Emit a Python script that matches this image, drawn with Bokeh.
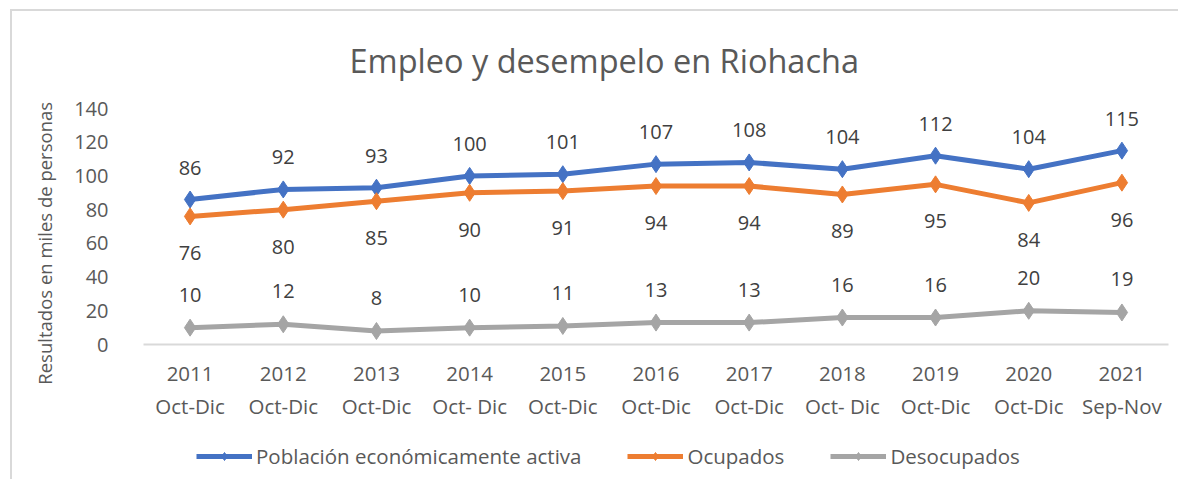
from bokeh.plotting import figure
from bokeh.layouts import column
from bokeh.models import FixedTicker, Legend, LegendItem, LabelSet, ColumnDataSource, InlineStyleSheet
from bokeh.core.properties import value
from bokeh.embed import file_html
from bokeh.resources import INLINE

categories = ["2011\nOct-Dic", "2012\nOct-Dic", "2013\nOct-Dic", "2014\nOct- Dic", "2015\nOct-Dic",
              "2016\nOct-Dic", "2017\nOct-Dic", "2018\nOct- Dic", "2019\nOct-Dic", "2020\nOct-Dic",
              "2021\nSep-Nov"]
pea = [86, 92, 93, 100, 101, 107, 108, 104, 112, 104, 115]
ocupados = [76, 80, 85, 90, 91, 94, 94, 89, 95, 84, 96]
desocupados = [10, 12, 8, 10, 11, 13, 13, 16, 16, 20, 19]
y_ticks = [0, 20, 40, 60, 80, 100, 120, 140]

FONT = "Open Sans"
TXT = "#595959"

x = list(range(len(categories)))

p = figure(width=1178, height=423, output_backend="svg", toolbar_location=None,
           x_range=(-0.5, len(categories) - 0.5), y_range=(0, 140),
           min_border_left=143, min_border_right=10, min_border_top=108, min_border_bottom=0,
           title="Empleo y desempelo en Riohacha")
p.outline_line_color = None
p.title.text_font = FONT
p.title.text_font_size = "32.5px"
p.title.text_font_style = "normal"
p.title.text_color = TXT
p.title.align = "left"
p.title.offset = 206
p.title.standoff = 51

p.xgrid.visible = False
p.ygrid.visible = False

p.yaxis.ticker = FixedTicker(ticks=y_ticks)
p.yaxis.axis_line_color = None
p.yaxis.major_tick_line_color = None
p.yaxis.minor_tick_line_color = None
p.yaxis.major_label_text_font = FONT
p.yaxis.major_label_text_font_size = "20px"
p.yaxis.major_label_text_color = TXT
p.yaxis.major_label_standoff = 29
p.yaxis.axis_label = "Resultados en miles de personas" + "\u00a0" * 7
p.yaxis.axis_label_text_font = FONT
p.yaxis.axis_label_text_font_size = "18.5px"
p.yaxis.axis_label_text_font_style = "normal"
p.yaxis.axis_label_text_color = TXT
p.yaxis.axis_label_standoff = 14

p.xaxis.ticker = FixedTicker(ticks=x)
p.xaxis.major_label_overrides = {i: c for i, c in zip(x, categories)}
p.xaxis.axis_line_color = "#d9d9d9"
p.xaxis.axis_line_width = 2
p.xaxis.major_tick_line_color = None
p.xaxis.minor_tick_line_color = None
p.xaxis.major_label_text_font = FONT
p.xaxis.major_label_text_font_size = "20.5px"
p.xaxis.major_label_text_color = TXT
p.xaxis.major_label_standoff = 8

series = [("Población económicamente activa", pea, "#4472C4", -32),
          ("Ocupados", ocupados, "#ED7D31", 37),
          ("Desocupados", desocupados, "#A5A5A5", -33)]

# separate strip for the legend below the chart
lf = figure(width=1178, height=56, output_backend="svg", toolbar_location=None,
            min_border=0, x_range=(0, 1), y_range=(0, 1))
lf.axis.visible = False
lf.grid.visible = False
lf.outline_line_color = None

items = []
for name, vals, color, off in series:
    src = ColumnDataSource(dict(x=x, y=vals, t=[str(v) for v in vals]))
    p.line("x", "y", source=src, line_color=color, line_width=5)
    p.scatter("x", "y", source=src, marker="diamond", size=17, fill_color=color, line_color=color)
    labels = LabelSet(x="x", y="y", text="t", source=src, y_offset=-off,
                      text_align="center", text_baseline="middle",
                      text_font=value(FONT), text_font_size="20px", text_color="#404040")
    p.add_layout(labels)
    # legend proxies, placed outside the strip's visible range
    proxy = ColumnDataSource(dict(x=[-10, -9], y=[-10, -10]))
    l1 = lf.line("x", "y", source=proxy, line_color=color, line_width=5)
    l2 = lf.scatter("x", "y", source=proxy, marker="diamond", size=13, fill_color=color, line_color=color)
    items.append(LegendItem(label=name, renderers=[l1, l2]))

legend = Legend(items=items, orientation="horizontal", location=(53, 9))
legend.label_text_font = FONT
legend.label_text_font_size = "20.5px"
legend.label_text_color = TXT
legend.border_line_color = None
legend.background_fill_alpha = 0
legend.spacing = 46
legend.glyph_width = 56
legend.label_standoff = 4
legend.margin = 0
legend.padding = 0
lf.add_layout(legend, "center")

frame_css = InlineStyleSheet(css=""":host::after {
  content: ""; position: absolute; left: 10px; top: 9px; right: 0; bottom: 0;
  border-left: 2px solid #d9d9d9; border-top: 2px solid #d9d9d9;
  pointer-events: none; z-index: 10; }
:host { position: relative; }""")

layout = column(p, lf, spacing=0, stylesheets=[frame_css])
open("out.html", "w").write(file_html(layout, INLINE))
